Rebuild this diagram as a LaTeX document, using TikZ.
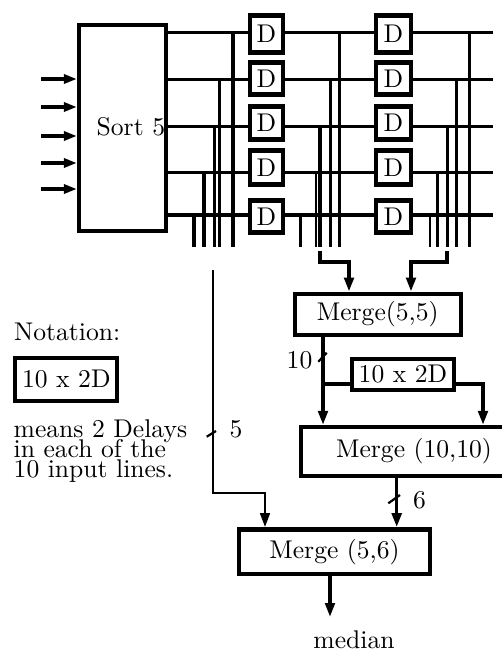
\documentclass[tikz,border=0pt]{standalone}
\usepackage{graphicx}
\usetikzlibrary{arrows.meta}
\newcommand{\txt}[1]{\scalebox{2.57}{#1}}
\begin{document}
\begin{tikzpicture}[x=1bp,y=-1bp,
  wire/.style={line width=3.4bp},
  arr/.style={line width=3.4bp,-{Triangle[length=14bp,width=9.5bp]}},
  box/.style={draw,line width=4.3bp,inner sep=0pt},
  dbox/.style={draw,line width=4.8bp,inner sep=0pt},
  lbl/.style={inner sep=0pt},
  slash/.style={line width=2.2bp}]
\useasboundingbox (0,0) rectangle (502,654);
\clip (0,0) rectangle (502,654);

% Sort 5
\node[box,minimum width=87bp,minimum height=206bp] (sort) at (122.5,128) {};
\node[lbl,anchor=base west] (sortt) at (96.5,135) {\txt{Sort 5}};

% inputs
\foreach \n/\y in {a/79,b/107,c/136,d/163,e/189}{
  \coordinate (in\n) at (41,\y);
  \draw[line width=3.4bp,-{Triangle[length=13bp,width=9bp]}] (in\n) -- (sort.west |- in\n);
}

% delay boxes
\foreach \n/\c/\h in {a/34/37.5,b/78.5/32.5,c/123/33.5,d/167.5/34.5,e/216.5/32.5}{
  \node[dbox,minimum width=33bp,minimum height=\h bp] (d1\n) at (266.5,\c) {\txt{D}};
  \node[dbox,minimum width=35bp,minimum height=\h bp] (d2\n) at (393.5,\c) {\txt{D}};
}

% horizontal lines
\coordinate (rend) at (493,0);
\foreach \n/\y in {a/32.7,b/79.3,c/126.7,d/172.7,e/215}{
  \coordinate (y\n) at (0,\y);
  \draw[wire] (sort.east |- y\n) -- (d1\n.west |- y\n);
  \draw[wire] (d1\n.east |- y\n) -- (d2\n.west |- y\n);
  \draw[wire] (d2\n.east |- y\n) -- (rend |- y\n);
}

% taps
\foreach \x/\y/\w in {233/32.7/3.4, 219.5/79.3/2.6, 214.3/126.7/2.4, 204/172.7/4, 194/215/3.4,
  339.3/32.7/3.4, 330/79.3/3, 320/126.7/3.4, 315.7/172.7/1.8, 300.7/215/3.4,
  469.3/32.7/3.4, 456.7/79.3/3.4, 447.3/126.7/2.8, 437.7/172.7/3.4, 430/215/2.6}{
  \draw[line width=\w bp] (\x,\y) -- (\x,247);
}

% Merge(5,5)
\node[box,minimum width=166bp,minimum height=41bp] (m55) at (377.7,314.2) {\txt{Merge(5,5)}};
\coordinate (bl) at (320,251);
\coordinate (blx) at (349,262);
\draw[arr] (bl) |- (blx) -- (blx |- m55.north);
\coordinate (br) at (447,251);
\coordinate (brx) at (411,262);
\draw[arr] (br) |- (brx) -- (brx |- m55.north);

% 10 x 2D and Merge (10,10)
\node[box,minimum width=102bp,minimum height=31bp] (d10) at (403,374.5) {\txt{10 x 2D}};
\node[box,minimum width=226bp,minimum height=49bp] (m1010) at (414,451.5) {\txt{Merge (10,10)}};
\coordinate (cx) at (323,0);
\draw[arr] (m55.south -| cx) -- (m1010.north -| cx);
\coordinate (by) at (323,384);
\draw[wire] (by) -- (d10.west |- by);
\coordinate (rx) at (483,384);
\draw[arr] (d10.east |- rx) -- (rx) -- (rx |- m1010.north);
\draw[slash] (318.3,361.7) -- (326.7,352.7);
\node[lbl,anchor=base west] (l10) at (286.5,368) {\txt{10}};

% Merge (5,6)
\node[box,minimum width=190.4bp,minimum height=44.7bp] (m56) at (334.5,551.7) {\txt{Merge (5,6)}};
\coordinate (sx) at (396.7,0);
\draw[arr] (m1010.south -| sx) -- (m56.north -| sx);
\draw[slash] (388.3,503.3) -- (400,495);
\node[lbl,anchor=base west] (l6) at (413,508) {\txt{6}};

\coordinate (lt) at (213,270);
\coordinate (lc) at (265,493);
\draw[line width=2.8bp,-{Triangle[length=14bp,width=9.5bp]}] (lt) |- (lc) -- (lc |- m56.north);
\draw[slash] (206.7,436.7) -- (216,431);
\node[lbl,anchor=base west] (l5) at (229.5,437) {\txt{5}};

\coordinate (ot) at (330,617);
\draw[arr] (m56.south -| ot) -- (ot);
\node[lbl,anchor=base] (med) at (354,648) {\txt{median}};

% Notation
\node[lbl,anchor=base west] (nt) at (14,340) {\txt{Notation:}};
\node[box,minimum width=102bp,minimum height=42.7bp] (nbox) at (66.3,379.4) {\txt{10 x 2D}};
\node[lbl,anchor=base west] (nexp) at (13.5,477)
  {\txt{\vbox{\baselineskip=7.78pt\lineskiplimit=-\maxdimen
    \hbox{means 2 Delays}\hbox{in each of the}\hbox{10 input lines.}}}};
\end{tikzpicture}
\end{document}
